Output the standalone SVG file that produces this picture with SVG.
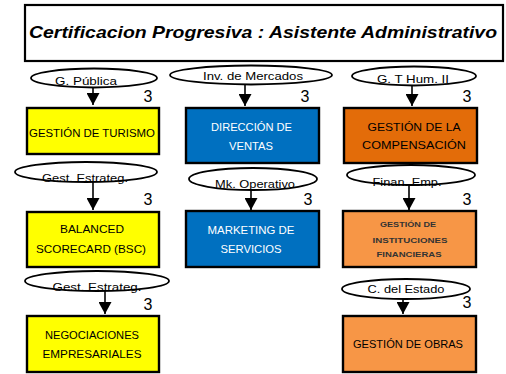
<svg xmlns="http://www.w3.org/2000/svg" width="506" height="374" viewBox="0 0 506 374">
<style>
.bg{fill:#fff}
.title{font-family:"Liberation Sans",Arial,sans-serif;font-size:17px;font-weight:bold;font-style:italic;fill:#000}
.ell{fill:#fff;stroke:#000;stroke-width:1.8}
.el{font-family:"Liberation Sans",Arial,sans-serif;font-size:11.5px;fill:#000;text-anchor:middle}
.num{font-family:"Liberation Sans",Arial,sans-serif;font-size:16px;fill:#000;text-anchor:middle}
.box{stroke:#000;stroke-width:2.4}
.bt{font-family:"Liberation Sans",Arial,sans-serif;font-size:10.5px;text-anchor:middle;fill:#000}
.bs{font-family:"Liberation Sans",Arial,sans-serif;font-size:7.5px;font-weight:bold;text-anchor:middle;fill:#333}
.w{fill:#fff}
.conn{stroke:#000;stroke-width:1.6;fill:none}
</style>
<defs>
<marker id="ah" markerWidth="13" markerHeight="13" refX="12" refY="6.5" orient="auto" markerUnits="userSpaceOnUse">
<path d="M0,0 L12,6.5 L0,13 Z" fill="#000"/>
</marker>
</defs>
<rect class="bg" x="0" y="0" width="506" height="374"/>
<g id="title">
<rect x="25" y="5" width="478" height="56" fill="#fff" stroke="#000" stroke-width="2.2"/>
<text class="title" x="29" y="38" textLength="468" lengthAdjust="spacingAndGlyphs">Certificacion Progresiva : Asistente Administrativo</text>
</g>
<g id="connectors">
<line class="conn" x1="93" y1="87" x2="93" y2="105" marker-end="url(#ah)"/>
<line class="conn" x1="245" y1="84" x2="245" y2="106" marker-end="url(#ah)"/>
<line class="conn" x1="412" y1="85" x2="412" y2="106" marker-end="url(#ah)"/>
<line class="conn" x1="93" y1="182" x2="93" y2="210" marker-end="url(#ah)"/>
<line class="conn" x1="251" y1="190" x2="251" y2="210" marker-end="url(#ah)"/>
<line class="conn" x1="409" y1="185" x2="409" y2="210" marker-end="url(#ah)"/>
<line class="conn" x1="105" y1="291" x2="105" y2="314" marker-end="url(#ah)"/>
<line class="conn" x1="403" y1="298" x2="403" y2="314" marker-end="url(#ah)"/>
</g>
<g id="n1">
<ellipse class="ell" cx="94" cy="78" rx="63" ry="9.5"/>
<text class="el" x="86" y="85" textLength="62" lengthAdjust="spacingAndGlyphs">G. Pública</text>
<text class="num" x="148" y="102">3</text>
<rect class="box" x="27" y="108" width="132" height="46" fill="#FFFF00"/>
<text class="bt" x="92" y="137" textLength="126" lengthAdjust="spacingAndGlyphs">GESTIÓN DE TURISMO</text>
</g>
<g id="n2">
<ellipse class="ell" cx="251" cy="75" rx="81" ry="9.5"/>
<text class="el" x="253" y="80" textLength="100" lengthAdjust="spacingAndGlyphs">Inv. de Mercados</text>
<text class="num" x="305" y="102">3</text>
<rect class="box" x="186" y="108" width="133" height="55" fill="#0070C0"/>
<text class="bt w" x="251.5" y="131" textLength="81" lengthAdjust="spacingAndGlyphs">DIRECCIÓN DE</text>
<text class="bt w" x="251" y="150" textLength="44" lengthAdjust="spacingAndGlyphs">VENTAS</text>
</g>
<g id="n3">
<ellipse class="ell" cx="414" cy="76" rx="62" ry="9.5"/>
<text class="el" x="413" y="83" textLength="72" lengthAdjust="spacingAndGlyphs">G. T Hum. II</text>
<text class="num" x="467" y="102">3</text>
<rect class="box" x="344" y="108" width="133" height="55" fill="#E36C09"/>
<text class="bt" x="414" y="131" textLength="93" lengthAdjust="spacingAndGlyphs">GESTIÓN DE LA</text>
<text class="bt" x="414" y="149" textLength="104" lengthAdjust="spacingAndGlyphs">COMPENSACIÓN</text>
</g>
<g id="n4">
<ellipse class="ell" cx="86" cy="172" rx="71" ry="10"/>
<text class="el" x="85" y="182" textLength="86" lengthAdjust="spacingAndGlyphs">Gest. Estrateg.</text>
<text class="num" x="148" y="205">3</text>
<rect class="box" x="27" y="212" width="132" height="55" fill="#FFFF00"/>
<text class="bt" x="92" y="233" textLength="64" lengthAdjust="spacingAndGlyphs">BALANCED</text>
<text class="bt" x="91" y="253" textLength="110" lengthAdjust="spacingAndGlyphs">SCORECARD (BSC)</text>
</g>
<g id="n5">
<ellipse class="ell" cx="253" cy="179" rx="64" ry="11"/>
<text class="el" x="255" y="188" textLength="80" lengthAdjust="spacingAndGlyphs">Mk. Operativo</text>
<text class="num" x="308" y="205">3</text>
<rect class="box" x="186" y="211" width="133" height="56" fill="#0070C0"/>
<text class="bt w" x="251" y="234" textLength="87" lengthAdjust="spacingAndGlyphs">MARKETING DE</text>
<text class="bt w" x="251" y="253" textLength="61" lengthAdjust="spacingAndGlyphs">SERVICIOS</text>
</g>
<g id="n6">
<ellipse class="ell" cx="411" cy="175" rx="64" ry="10"/>
<text class="el" x="407" y="186" textLength="69" lengthAdjust="spacingAndGlyphs">Finan. Emp.</text>
<text class="num" x="467" y="205">3</text>
<rect class="box" x="343" y="211" width="133" height="56" fill="#F79646"/>
<text class="bs" x="408" y="227" textLength="56" lengthAdjust="spacingAndGlyphs">GESTIÓN DE</text>
<text class="bs" x="410" y="243" textLength="75" lengthAdjust="spacingAndGlyphs">INSTITUCIONES</text>
<text class="bs" x="409" y="257" textLength="65" lengthAdjust="spacingAndGlyphs">FINANCIERAS</text>
</g>
<g id="n7">
<ellipse class="ell" cx="97" cy="281" rx="72" ry="10"/>
<text class="el" x="97" y="291" textLength="89" lengthAdjust="spacingAndGlyphs">Gest. Estrateg.</text>
<text class="num" x="148" y="310">3</text>
<rect class="box" x="27" y="316" width="132" height="56" fill="#FFFF00"/>
<text class="bt" x="92" y="339" textLength="94" lengthAdjust="spacingAndGlyphs">NEGOCIACIONES</text>
<text class="bt" x="92" y="358" textLength="99" lengthAdjust="spacingAndGlyphs">EMPRESARIALES</text>
</g>
<g id="n8">
<ellipse class="ell" cx="406" cy="289" rx="64" ry="10"/>
<text class="el" x="406" y="293" textLength="77" lengthAdjust="spacingAndGlyphs">C. del Estado</text>
<text class="num" x="467" y="308">3</text>
<rect class="box" x="343" y="316" width="133" height="56" fill="#F79646"/>
<text class="bt" x="408" y="348" textLength="110" lengthAdjust="spacingAndGlyphs">GESTIÓN DE OBRAS</text>
</g>
</svg>
